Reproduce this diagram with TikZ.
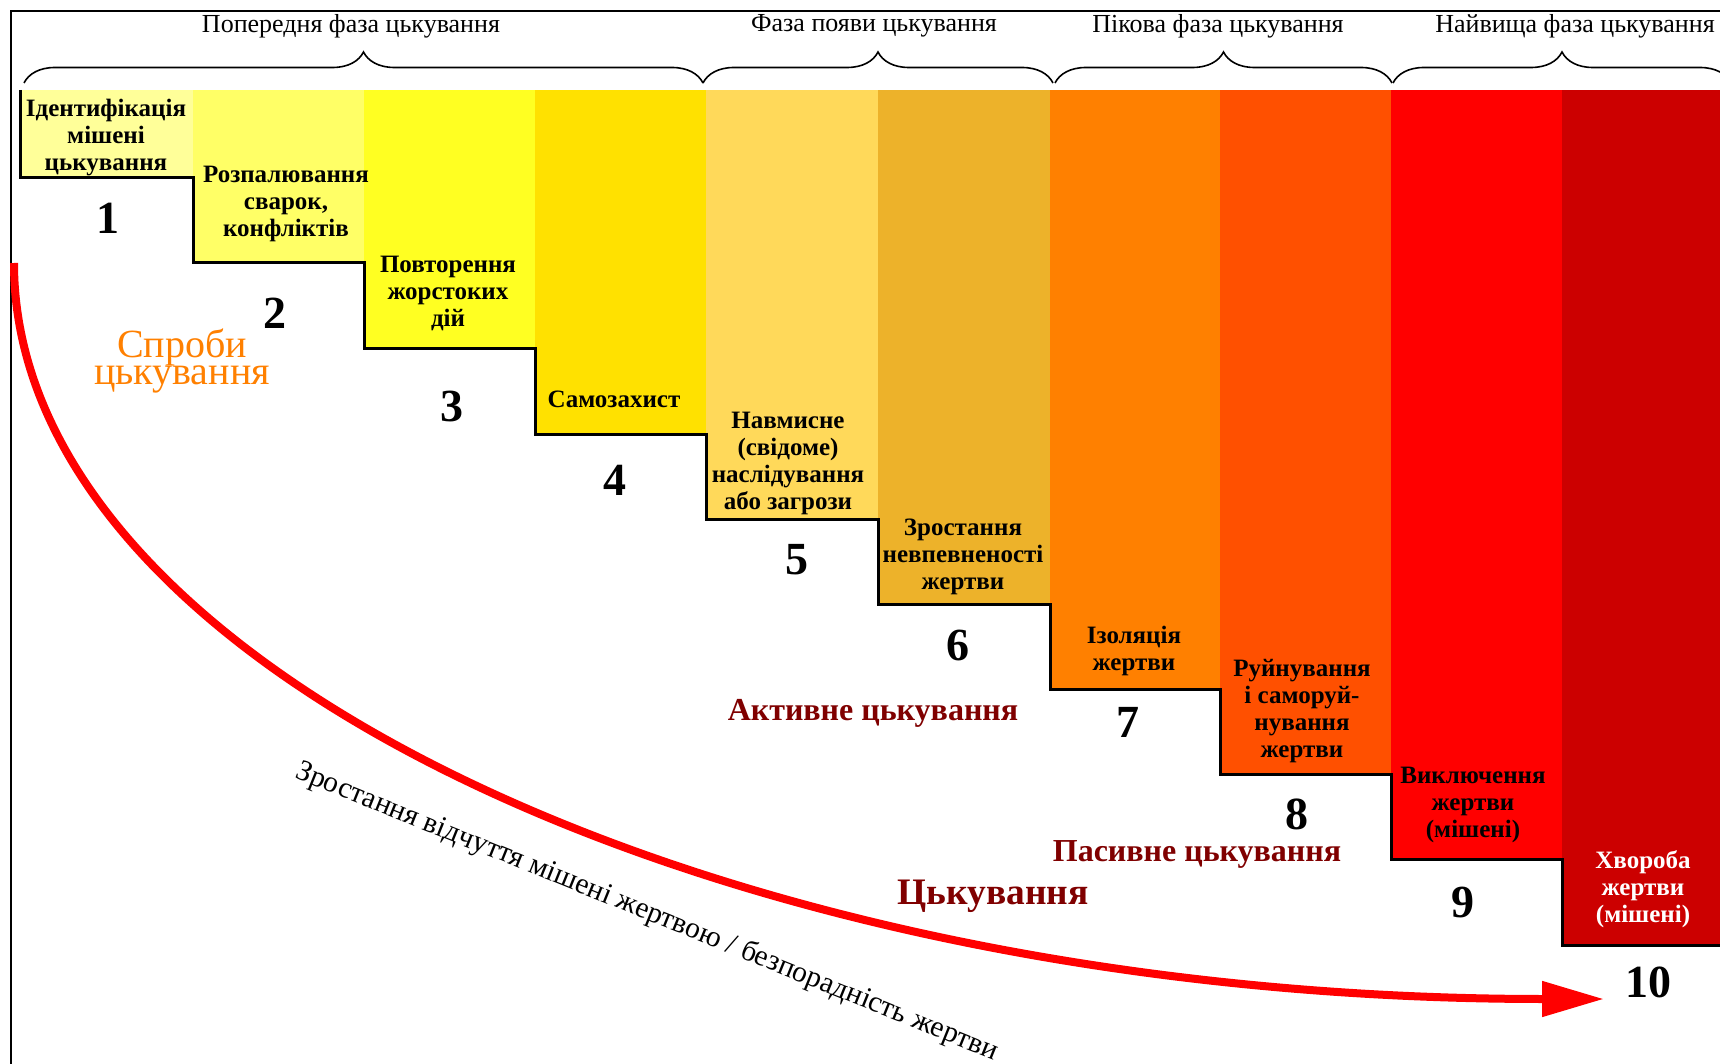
\documentclass[tikz,border=0pt]{standalone}
\usepackage{fontspec}
\setmainfont{Liberation Serif}
\usetikzlibrary{decorations.pathreplacing,arrows.meta}
\definecolor{cA}{HTML}{FFFF99}
\definecolor{cB}{HTML}{FFFF66}
\definecolor{cC}{HTML}{FFFF22}
\definecolor{cD}{HTML}{FFE100}
\definecolor{cE}{HTML}{FFD95A}
\definecolor{cF}{HTML}{EDB22A}
\definecolor{cG}{HTML}{FF8000}
\definecolor{cH}{HTML}{FF5000}
\definecolor{cI}{HTML}{FF0000}
\definecolor{cJ}{HTML}{CC0000}
\definecolor{darkred}{HTML}{800000}
\definecolor{orangetxt}{HTML}{FF8000}
\newcommand{\tightlinesx}{\lineskiplimit=-30pt\relax}
\tikzset{
  boxtxt/.style={font=\bfseries\fontsize{12.5}{13.5}\selectfont, align=center, inner sep=0pt},
  numtxt/.style={font=\bfseries\fontsize{23}{23}\selectfont, inner sep=0pt},
  phasetxt/.style={font=\fontsize{13}{13}\selectfont, inner sep=0pt},
  statetxt/.style={font=\bfseries\fontsize{16}{16}\selectfont, text=darkred, inner sep=0pt},
  phasebrace/.style={decorate, decoration={brace, amplitude=15.5pt}, line width=0.8pt},
  stairline/.style={line width=1.5pt, line join=miter},
}
\begin{document}
\begin{tikzpicture}[x=0.5pt, y=-0.5pt]
\clip (0,0) rectangle (1720,1064);
\fill[white] (0,0) rectangle (1720,1064);
% bars
\fill[cA] (20,90) rectangle (193,178);
\fill[cB] (193,90) rectangle (364,263);
\fill[cC] (364,90) rectangle (535,349);
\fill[cD] (535,90) rectangle (706,434);
\fill[cE] (706,90) rectangle (878,519);
\fill[cF] (878,90) rectangle (1050,604);
\fill[cG] (1050,90) rectangle (1220,689);
\fill[cH] (1220,90) rectangle (1391,774);
\fill[cI] (1391,90) rectangle (1562,859);
\fill[cJ] (1562,90) rectangle (1734,945);
% staircase outline
\draw[stairline] (20,90) -- (20,178) -- (193,178) -- (193,263) -- (364,263) -- (364,349)
  -- (535,349) -- (535,434) -- (706,434) -- (706,519) -- (878,519) -- (878,604)
  -- (1050,604) -- (1050,689) -- (1220,689) -- (1220,774) -- (1391,774) -- (1391,859)
  -- (1562,859) -- (1562,945) -- (1734,945);
% frame
\draw[line width=0.9pt] (11,1070) -- (11,11) -- (1730,11);
% braces
\draw[phasebrace] (24,83) -- (703,83);
\draw[phasebrace] (703,83) -- (1053,83);
\draw[phasebrace] (1055,83) -- (1392,83);
\draw[phasebrace] (1393,83) -- (1731,83);
% phase labels
\node[phasetxt] (ph1) at (351,26) {Попередня фаза цькування};
\node[phasetxt] (ph2) at (874,26) {Фаза появи цькування};
\node[phasetxt] (ph3) at (1218,26) {Пікова фаза цькування};
\node[phasetxt] (ph4) at (1575,26) {Найвища фаза цькування};
% step texts
\node[boxtxt] (t1) at (106,138) {Ідентифікація\\мішені\\цькування};
\node[boxtxt] (t2) at (286,204) {Розпалювання\\сварок,\\конфліктів};
\node[boxtxt] (t3) at (448,293) {Повторення\\жорстоких\\дій};
\node[boxtxt] (t4) at (614,399) {Самозахист};
\node[boxtxt] (t5) at (788,463) {Навмисне\\(свідоме)\\наслідування\\або загрози};
\node[boxtxt] (t6) at (963,557) {Зростання\\невпевненості\\жертви};
\node[boxtxt] (t7) at (1134,651) {Ізоляція\\жертви};
\node[boxtxt] (t8) at (1302,711) {Руйнування\\і саморуй-\\нування\\жертви};
\node[boxtxt] (t9) at (1473,805) {Виключення\\жертви\\(мішені)};
\node[boxtxt, text=white] (t10) at (1643,889) {Хвороба\\жертви\\(мішені)};
% numbers
\node[numtxt] (n1) at (108,218) {1};
\node[numtxt] (n2) at (275,313) {2};
\node[numtxt] (n3) at (452,406) {3};
\node[numtxt] (n4) at (615,480) {4};
\node[numtxt] (n5) at (797,560) {5};
\node[numtxt] (n6) at (958,645) {6};
\node[numtxt] (n7) at (1128,722) {7};
\node[numtxt] (n8) at (1297,814) {8};
\node[numtxt] (n9) at (1463,902) {9};
\node[numtxt] (n10) at (1648,982) {10};
% red arrow
\coordinate (arrS) at (14,263);
\coordinate (arrE) at (1604,999);
\draw[red, line width=4pt, -{Triangle[length=31pt,width=17pt]}] (arrS) .. controls (14,670) and (725,999) .. (arrE);
% state labels
\node[font={\fontsize{20}{13.5}\selectfont\tightlinesx}, text=orangetxt, align=center, inner sep=0pt] (try) at (182,361) {Спроби\\цькування};
\node[statetxt] (act) at (873,713) {Активне цькування};
\node[statetxt] (pas) at (1197,854) {Пасивне цькування};
\node[statetxt, font=\bfseries\fontsize{18.7}{18.7}\selectfont] (bul) at (993,896) {Цькування};
\node[font=\fontsize{14.8}{14.8}\selectfont, rotate=-22, inner sep=0pt] (feel) at (647,912) {Зростання відчуття мішені жертвою / безпорадність жертви};
\end{tikzpicture}
\end{document}
